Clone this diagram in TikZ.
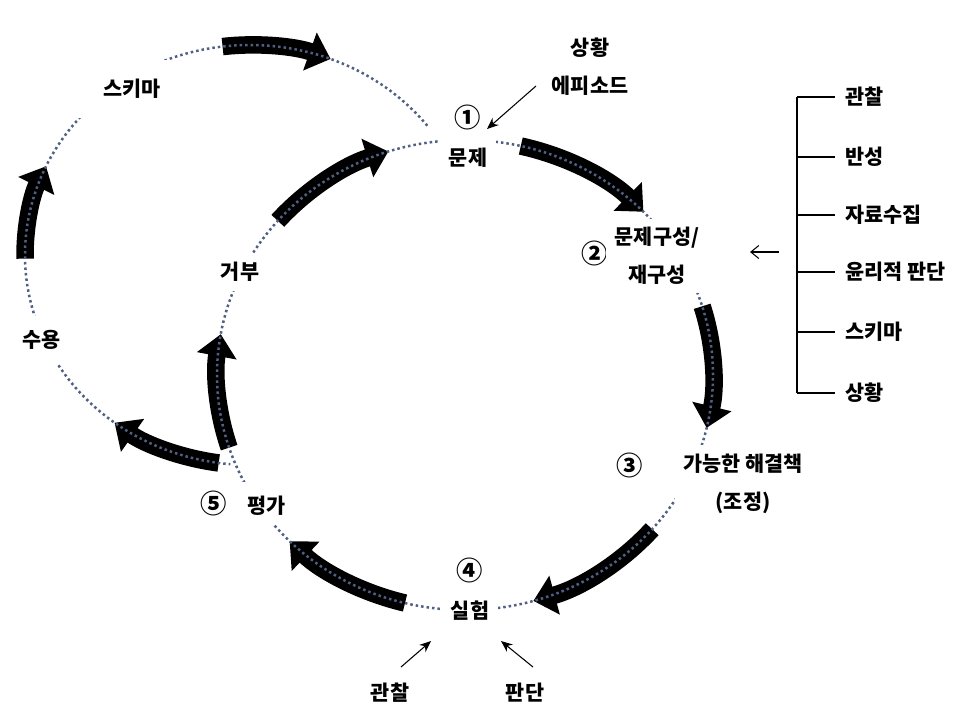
\documentclass[tikz,border=0pt]{standalone}
\usepackage{fontspec}
\setmainfont{Noto Sans CJK KR}
\usetikzlibrary{arrows.meta}
\definecolor{dotblue}{RGB}{80,96,130}
\newcommand{\stepno}[1]{{\fontsize{15}{15}\selectfont #1}}

\begin{document}
\begin{tikzpicture}[
  x=0.02cm, y=0.02cm,
  lbl/.style={fill=white, inner sep=5pt, align=center,
              font=\bfseries\fontsize{11.8}{21.5}\selectfont},
  factor/.style={inner xsep=0.2cm, inner ysep=2pt, anchor=west,
                 font=\bfseries\fontsize{11.8}{14}\selectfont},
  cycarrow/.style={line width=0.35cm, -{Triangle[width=0.78cm, length=0.44cm]}},
  dotline/.style={draw=dotblue, line width=0.05cm, dash pattern=on 0.05cm off 0.06cm},
  thinarrow/.style={-{Stealth[length=2.3mm, width=1.9mm]}, line width=0.6pt},
  tick/.style={line width=0.6pt}
]
  \useasboundingbox (0,0) rectangle (980,-708);
  \coordinate (mc) at (465,-375);  % main cycle
  \coordinate (lc) at (250,-255);  % left loop

  % thick arrows
  \foreach \a/\b in {77/44, 17/-13, -41/-74, -104/-135, 198/170, 139/108}
    \draw[cycarrow] (mc) ++(\a:248 and 235)
      arc[start angle=\a, end angle=\b, x radius=248, y radius=235];
  \foreach \a/\b in {-98/-127, 181/155, 97/69}
    \draw[cycarrow] (lc) ++(\a:225 and 210)
      arc[start angle=\a, end angle=\b, x radius=225, y radius=210];

  % dotted tracks
  \draw[dotline] (mc) ellipse[x radius=248, y radius=235];
  \draw[dotline] (lc) ++(38:225 and 210)
    arc[start angle=38, end angle=265, x radius=225, y radius=210];

  % stages
  \node[lbl] (prob) at (468,-136) {\stepno{①}\\문제};
  \node[lbl] (formno) at (595,-253) {\stepno{②}};
  \node[lbl] (form) at (657,-256) {문제구성/\\재구성};
  \node[lbl] (solno) at (630,-465) {\stepno{③}};
  \node[lbl] (sol) at (743,-484) {가능한 해결책\\(조정)};
  \node[lbl] (exp) at (470,-589) {\stepno{④}\\실험};
  \node[lbl] (eval) at (243,-503) {\stepno{⑤}\quad 평가};
  \node[lbl] (rej) at (240,-272) {거부};
  \node[lbl, inner ysep=8pt] (acc) at (42,-340) {수용};
  \node[lbl, minimum width=3.4cm, minimum height=1.15cm] (schema) at (132,-89) {스키마};
  \node[lbl] (sit) at (590,-67) {상황\\에피소드};
  \node[lbl] (obs) at (390,-693) {관찰};
  \node[lbl] (jud) at (525,-693) {판단};

  % small arrows
  \coordinate (sitout) at (536,-86);
  \coordinate (probin) at (487,-129);
  \coordinate (obsout) at (401,-667);
  \coordinate (expin1) at (431,-641);
  \coordinate (judout) at (533,-667);
  \coordinate (expin2) at (501,-641);
  \coordinate (brout) at (779,-252);
  \coordinate (formin) at (750,-252);
  \draw[thinarrow] (sitout) -- (probin);
  \draw[thinarrow] (obsout) -- (expin1);
  \draw[thinarrow] (judout) -- (expin2);
  \draw[tick, -{Straight Barb[length=1.6mm, width=2.6mm]}] (brout) -- (formin);

  % factors
  \coordinate (brtop) at (797,-97);
  \coordinate (brbot) at (797,-393);
  \draw[tick] (brtop) -- (brbot);
  \foreach \y/\t [count=\i] in {97/관찰, 157/반성, 215/자료수집, 272/윤리적 판단, 332/스키마, 393/상황} {
    \node[factor] (f\i) at (835,-\y) {\t};
    \draw[tick] (brtop |- f\i.west) -- (f\i.west);
  }
\end{tikzpicture}
\end{document}
